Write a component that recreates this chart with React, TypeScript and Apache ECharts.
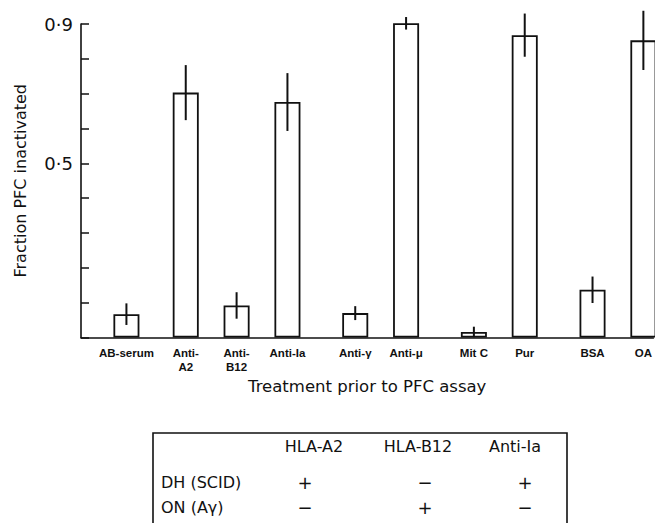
import React, { useEffect, useRef } from "react";
import * as echarts from "echarts";

// Treatments (categories) and their positions along the x axis (in slot units)
const categories = ["AB-serum", "Anti-\nA2", "Anti-\nB12", "Anti-Ia", "Anti-γ", "Anti-μ", "Mit C", "Pur", "BSA", "OA"];
const positions = [0, 3.5, 6.5, 9.5, 13.5, 16.5, 20.5, 23.5, 27.5, 30.5];
// Fraction of PFC inactivated and error (± half-length)
const values = [0.067, 0.703, 0.092, 0.676, 0.07, 0.902, 0.016, 0.868, 0.137, 0.853];
const errors = [0.031, 0.079, 0.038, 0.083, 0.02, 0.018, 0.015, 0.062, 0.038, 0.085];

// y axis
const yTicks = [0, 0.1, 0.2, 0.3, 0.4, 0.5, 0.6, 0.7, 0.8, 0.9];
const yLabelMap: Record<string, string> = { "0.5": "0·5", "0.9": "0·9" };

// Table beneath the chart
const tableHeaders = ["HLA-A2", "HLA-B12", "Anti-Ia"];
const tableRows = ["DH (SCID)", "ON (Aγ)"];
const tableCells = [
  ["+", "−", "+"],
  ["−", "+", "−"],
];

const FONT = "'Liberation Sans', Arial, sans-serif";
const WIDE = "'DejaVu Sans', sans-serif";
const INK = "#111";

export default function App() {
  const ref = useRef<HTMLDivElement>(null);
  useEffect(() => {
    if (!ref.current) return;
    const chart = echarts.init(ref.current, undefined, { renderer: "svg" });

    const barData = positions.map((p, i) => [p, values[i]]);
    const errData = positions.map((p, i) => [p, values[i], errors[i]]);

    const colX = [305, 425, 525];
    const headX = [314, 418, 515];
    const rowY = [482, 507];

    const graphics: any[] = [
      {
        type: "polyline",
        shape: { points: [[153, 530], [153, 433], [567, 433], [567, 530]] },
        style: { stroke: INK, lineWidth: 1.6, fill: null },
      },
    ];
    tableHeaders.forEach((h, j) => {
      graphics.push({
        type: "text",
        x: headX[j],
        y: 446,
        style: { text: h, font: `16px ${WIDE}`, fill: INK, align: "center", verticalAlign: "middle" },
      });
    });
    tableRows.forEach((r, i) => {
      graphics.push({
        type: "text",
        x: 161,
        y: rowY[i],
        style: { text: r, font: `16px ${WIDE}`, fill: INK, align: "left", verticalAlign: "middle" },
      });
      tableCells[i].forEach((c, j) => {
        graphics.push({
          type: "text",
          x: colX[j],
          y: rowY[i],
          style: { text: c, font: `18px ${WIDE}`, fill: INK, align: "center", verticalAlign: "middle" },
        });
      });
    });

    chart.setOption({
      animation: false,
      backgroundColor: "#fff",
      grid: { left: 81, top: 24, right: 0, bottom: 185.5 },
      xAxis: {
        type: "value",
        min: -2.68,
        max: 31.09,
        name: "Treatment prior to PFC assay",
        nameLocation: "middle",
        nameGap: 40,
        nameTextStyle: { fontSize: 16.5, color: INK, fontFamily: WIDE },
        axisLine: { show: true, onZero: false, lineStyle: { color: INK, width: 1.6 } },
        axisTick: { show: false },
        splitLine: { show: false },
        axisLabel: {
          customValues: positions,
          margin: 8,
          fontSize: 11.5,
          fontWeight: "bold",
          lineHeight: 14,
          color: INK,
          fontFamily: FONT,
          formatter: (v: number) => {
            const i = positions.indexOf(v);
            return i >= 0 ? categories[i] : "";
          },
        },
      },
      yAxis: {
        type: "value",
        min: 0,
        max: 0.9,
        interval: 0.1,
        name: "Fraction PFC inactivated",
        nameLocation: "middle",
        nameRotate: 90,
        nameGap: 53,
        nameTextStyle: { fontSize: 16, color: INK, fontFamily: WIDE },
        axisLine: { show: true, onZero: false, lineStyle: { color: INK, width: 1.6 } },
        axisTick: { show: true, inside: true, length: 8, lineStyle: { color: INK, width: 1.5 } },
        splitLine: { show: false },
        axisLabel: {
          margin: 8,
          fontSize: 18,
          color: INK,
          fontFamily: WIDE,
          formatter: (v: number) => {
            const k = yTicks.find((t) => Math.abs(t - v) < 1e-6);
            return k !== undefined ? yLabelMap[k.toFixed(1)] || "" : "";
          },
        },
      },
      series: [
        {
          type: "bar",
          data: barData,
          barWidth: 26,
          clip: false,
          z: 2,
          itemStyle: { color: "#fff", borderColor: INK, borderWidth: 1.8 },
        },
        {
          type: "custom",
          clip: false,
          z: 5,
          data: errData,
          renderItem: (params: any, api: any) => {
            const x = api.value(0);
            const y = api.value(1);
            const e = api.value(2);
            const p1 = api.coord([x, y + e]);
            const p2 = api.coord([x, y - e]);
            return {
              type: "line",
              shape: { x1: p1[0], y1: p1[1], x2: p2[0], y2: p2[1] },
              style: { stroke: INK, lineWidth: 2 },
            };
          },
        },
      ],
      graphic: graphics,
    });

    return () => chart.dispose();
  }, []);

  return (
    <div
      ref={ref}
      style={{ position: "fixed", left: 0, top: 0, width: 655, height: 523, background: "#fff" }}
    />
  );
}
